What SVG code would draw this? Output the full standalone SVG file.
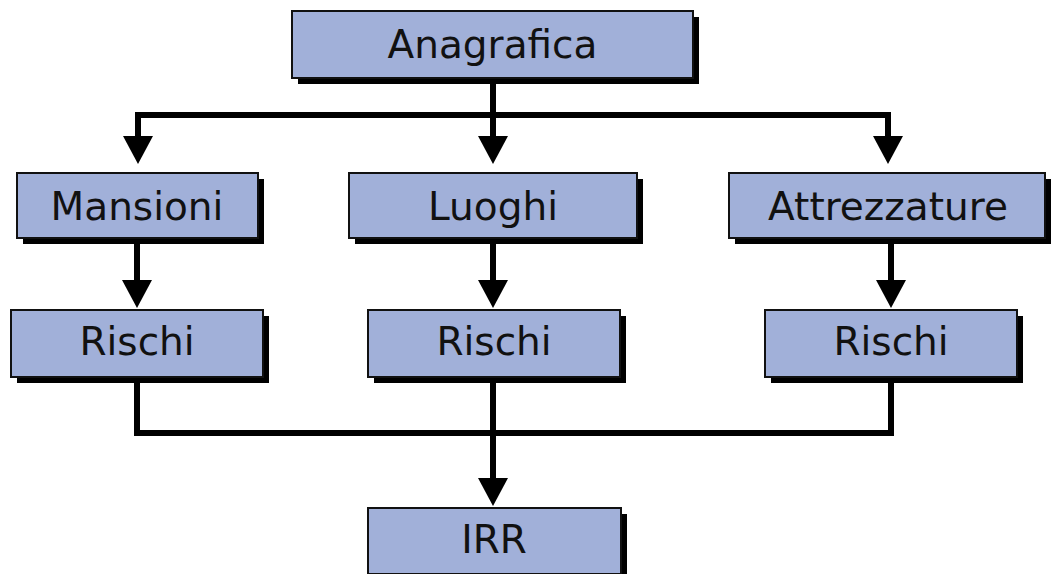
<svg xmlns="http://www.w3.org/2000/svg" width="1054" height="574" viewBox="0 0 1054 574">
<defs>
<style>
.sh{fill:#000}
.bx{fill:#a1b0d9;stroke:#111;stroke-width:2}
.tx{font-family:"DejaVu Sans","Verdana",sans-serif;font-size:39px;fill:#111;text-anchor:middle}
.ln{fill:none;stroke:#000;stroke-width:6;stroke-linejoin:miter;stroke-linecap:butt}
</style>
<marker id="ah" markerUnits="userSpaceOnUse" markerWidth="32" markerHeight="30" refX="16" refY="15" orient="auto" viewBox="0 0 32 30">
<path d="M0,0 L28,15 L0,30 Z" fill="#000"/>
</marker>
</defs>
<rect width="1054" height="574" fill="#fff"/>
<g id="connectors">
<path class="ln" d="M493,78 V115"/>
<path class="ln" d="M135,115 H891"/>
<path class="ln" d="M138,115 V152" marker-end="url(#ah)"/>
<path class="ln" d="M493,115 V152" marker-end="url(#ah)"/>
<path class="ln" d="M888,115 V152" marker-end="url(#ah)"/>
<path class="ln" d="M137,238 V296" marker-end="url(#ah)"/>
<path class="ln" d="M493,238 V296" marker-end="url(#ah)"/>
<path class="ln" d="M891,238 V296" marker-end="url(#ah)"/>
<path class="ln" d="M137,377 V433 H891 V377"/>
<path class="ln" d="M493,377 V494" marker-end="url(#ah)"/>
</g>
<g id="anagrafica">
<rect class="sh" x="298" y="17" width="401" height="67"/>
<rect class="bx" x="292" y="11" width="401" height="67"/>
<text class="tx" x="492.5" y="58">Anagrafica</text>
</g>
<g id="mansioni">
<rect class="sh" x="23" y="179" width="241" height="65"/>
<rect class="bx" x="17" y="173" width="241" height="65"/>
<text class="tx" x="137" y="220">Mansioni</text>
</g>
<g id="luoghi">
<rect class="sh" x="355" y="179" width="288" height="65"/>
<rect class="bx" x="349" y="173" width="288" height="65"/>
<text class="tx" x="493" y="220">Luoghi</text>
</g>
<g id="attrezzature">
<rect class="sh" x="735" y="179" width="316" height="65"/>
<rect class="bx" x="729" y="173" width="316" height="65"/>
<text class="tx" x="888" y="220">Attrezzature</text>
</g>
<g id="rischi1">
<rect class="sh" x="17" y="316" width="252" height="67"/>
<rect class="bx" x="11" y="310" width="252" height="67"/>
<text class="tx" x="137" y="355">Rischi</text>
</g>
<g id="rischi2">
<rect class="sh" x="374" y="316" width="252" height="67"/>
<rect class="bx" x="368" y="310" width="252" height="67"/>
<text class="tx" x="494" y="355">Rischi</text>
</g>
<g id="rischi3">
<rect class="sh" x="771" y="316" width="252" height="67"/>
<rect class="bx" x="765" y="310" width="252" height="67"/>
<text class="tx" x="891" y="355">Rischi</text>
</g>
<g id="irr">
<rect class="sh" x="374" y="514" width="253" height="66"/>
<rect class="bx" x="368" y="508" width="253" height="66"/>
<text class="tx" x="494" y="553">IRR</text>
</g>
</svg>
